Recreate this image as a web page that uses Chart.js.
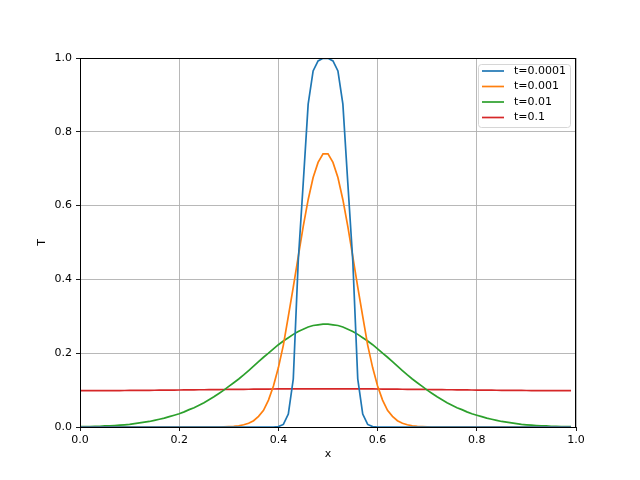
<!DOCTYPE html>
<html>
<head>
<meta charset="utf-8">
<script src="https://cdn.jsdelivr.net/npm/chart.js@4/dist/chart.umd.min.js"></script>
<style>
  html,body{margin:0;padding:0;background:#fff;}
  #wrap{width:640px;height:480px;}
</style>
</head>
<body>
<div id="wrap"><canvas id="c" width="640" height="480"></canvas></div>
<script>
// x grid: 0.00 .. 0.99, step 0.01
const xs = [
  0.00,0.01,0.02,0.03,0.04,0.05,0.06,0.07,0.08,0.09,
  0.10,0.11,0.12,0.13,0.14,0.15,0.16,0.17,0.18,0.19,
  0.20,0.21,0.22,0.23,0.24,0.25,0.26,0.27,0.28,0.29,
  0.30,0.31,0.32,0.33,0.34,0.35,0.36,0.37,0.38,0.39,
  0.40,0.41,0.42,0.43,0.44,0.45,0.46,0.47,0.48,0.49,
  0.50,0.51,0.52,0.53,0.54,0.55,0.56,0.57,0.58,0.59,
  0.60,0.61,0.62,0.63,0.64,0.65,0.66,0.67,0.68,0.69,
  0.70,0.71,0.72,0.73,0.74,0.75,0.76,0.77,0.78,0.79,
  0.80,0.81,0.82,0.83,0.84,0.85,0.86,0.87,0.88,0.89,
  0.90,0.91,0.92,0.93,0.94,0.95,0.96,0.97,0.98,0.99
];

const tA = [ // t=0.0001
  0,0,0,0,0,0,0,0,0,0,
  0,0,0,0,0,0,0,0,0,0,
  0,0,0,0,0,0,0,0,0,0,
  0,0,0,0,0,0,0,0,0,0,
  0.001,0.007,0.035,0.13,0.45,0.66,0.875,0.965,0.992,0.999,
  0.999,0.992,0.965,0.875,0.66,0.45,0.13,0.035,0.007,0.001,
  0,0,0,0,0,0,0,0,0,0,
  0,0,0,0,0,0,0,0,0,0,
  0,0,0,0,0,0,0,0,0,0,
  0,0,0,0,0,0,0,0,0,0
];

const tB = [ // t=0.001
  0,0,0,0,0,0,0,0,0,0,
  0,0,0,0,0,0,0,0,0,0,
  0,0,0,0,0,0,0,0,0,0.0005,
  0.001,0.0015,0.003,0.006,0.010,0.017,0.029,0.045,0.073,0.111,
  0.161,0.222,0.300,0.379,0.462,0.543,0.616,0.676,0.717,0.740,
  0.740,0.717,0.676,0.616,0.543,0.462,0.379,0.300,0.222,0.161,
  0.111,0.073,0.045,0.029,0.017,0.010,0.006,0.003,0.0015,0.001,
  0.0005,0,0,0,0,0,0,0,0,0,
  0,0,0,0,0,0,0,0,0,0,
  0,0,0,0,0,0,0,0,0,0
];

const tC = [ // t=0.01
  0.001,0.001,0.001,0.002,0.002,0.003,0.003,0.004,0.005,0.006,
  0.007,0.009,0.011,0.013,0.015,0.018,0.021,0.024,0.028,0.032,
  0.036,0.041,0.047,0.052,0.059,0.066,0.074,0.082,0.091,0.100,
  0.110,0.120,0.130,0.141,0.153,0.165,0.177,0.189,0.200,0.212,
  0.223,0.233,0.242,0.251,0.259,0.265,0.271,0.275,0.277,0.279,
  0.279,0.277,0.275,0.271,0.265,0.259,0.251,0.242,0.233,0.223,
  0.212,0.200,0.189,0.177,0.165,0.153,0.141,0.130,0.120,0.110,
  0.100,0.091,0.082,0.074,0.066,0.059,0.052,0.047,0.041,0.036,
  0.032,0.028,0.024,0.021,0.018,0.015,0.013,0.011,0.009,0.007,
  0.006,0.005,0.004,0.003,0.003,0.002,0.002,0.001,0.001,0.001
];

const tD = [ // t=0.1
  0.0985,0.0985,0.0985,0.0986,0.0986,0.0986,0.0987,0.0988,0.0988,0.0989,
  0.0990,0.0991,0.0992,0.0993,0.0995,0.0996,0.0997,0.0999,0.1000,0.1002,
  0.1003,0.1004,0.1006,0.1007,0.1009,0.1010,0.1012,0.1013,0.1015,0.1016,
  0.1018,0.1019,0.1021,0.1022,0.1023,0.1025,0.1026,0.1027,0.1028,0.1030,
  0.1031,0.1031,0.1032,0.1033,0.1034,0.1034,0.1034,0.1035,0.1035,0.1035,
  0.1035,0.1035,0.1035,0.1034,0.1034,0.1034,0.1033,0.1032,0.1031,0.1031,
  0.1030,0.1028,0.1027,0.1026,0.1025,0.1023,0.1022,0.1021,0.1019,0.1018,
  0.1016,0.1015,0.1013,0.1012,0.1010,0.1009,0.1007,0.1006,0.1004,0.1003,
  0.1002,0.1000,0.0999,0.0997,0.0996,0.0995,0.0993,0.0992,0.0991,0.0990,
  0.0989,0.0988,0.0988,0.0987,0.0986,0.0986,0.0986,0.0985,0.0985,0.0985
];

const seriesLabels = ['t=0.0001','t=0.001','t=0.01','t=0.1'];
const seriesColors = ['#1f77b4','#ff7f0e','#2ca02c','#d62728'];
const xTicks = [0.0,0.2,0.4,0.6,0.8,1.0];
const yTicks = [0.0,0.2,0.4,0.6,0.8,1.0];

const FONT = 'DejaVu Sans';
const pts = ys => xs.map((x,i)=>({x, y:ys[i]}));

// frame (all four spines) + matplotlib-style legend
const framePlugin = {
  id:'frame',
  afterDraw(chart){
    const {ctx, chartArea:a} = chart;
    ctx.save();
    ctx.strokeStyle='#000'; ctx.lineWidth=1;
    ctx.strokeRect(Math.round(a.left)+0.5, Math.round(a.top)+0.5, Math.round(a.right-a.left)-1, Math.round(a.bottom-a.top));

    // legend box
    const bx=478.5, by=64.5, bw=92, bh=63;
    ctx.fillStyle='rgba(255,255,255,0.8)';
    ctx.strokeStyle='#d6d6d6';
    ctx.beginPath();
    if(ctx.roundRect) ctx.roundRect(bx,by,bw,bh,3); else ctx.rect(bx,by,bw,bh);
    ctx.fill(); ctx.stroke();
    ctx.font='11px "'+FONT+'"';
    ctx.textBaseline='middle';
    ctx.textAlign='left';
    seriesLabels.forEach((lab,i)=>{
      const y=71+i*15.5;
      ctx.strokeStyle=seriesColors[i]; ctx.lineWidth=1.7;
      ctx.beginPath(); ctx.moveTo(482,y); ctx.lineTo(504,y); ctx.stroke();
      ctx.fillStyle='#000';
      ctx.fillText(lab,514,y);
    });
    ctx.restore();
  }
};

const ds = [tA,tB,tC,tD].map((ys,i)=>({
  label: seriesLabels[i],
  data: pts(ys),
  borderColor: seriesColors[i],
  backgroundColor: seriesColors[i],
  borderWidth: 1.7,
  pointRadius: 0,
  tension: 0,
  fill: false
}));

const tickFmt = v => Number(v).toFixed(1);

new Chart(document.getElementById('c'), {
  type:'line',
  data:{datasets: ds},
  options:{
    responsive:false,
    animation:false,
    layout:{padding:{left:0,top:58,right:64,bottom:0}},
    plugins:{legend:{display:false}, tooltip:{enabled:false}},
    scales:{
      x:{
        type:'linear', min:0, max:1,
        afterBuildTicks: s => { s.ticks = xTicks.map(v=>({value:v})); },
        afterFit: s => { s.height = 53; },
        grid:{color:'#b0b0b0', lineWidth:0.9, tickLength:4, tickColor:'#000', drawTicks:true},
        border:{display:true, color:'#000', width:1},
        ticks:{color:'#000', font:{family:FONT, size:11}, padding:3, maxRotation:0, callback: tickFmt},
        title:{display:true, text:'x', color:'#000', font:{family:FONT, size:11}, padding:{top:0,bottom:19}}
      },
      y:{
        type:'linear', min:0, max:1,
        afterBuildTicks: s => { s.ticks = yTicks.map(v=>({value:v})); },
        afterFit: s => { s.width = 80; },
        grid:{color:'#b0b0b0', lineWidth:0.9, tickLength:4, tickColor:'#000', drawTicks:true},
        border:{display:true, color:'#000', width:1},
        ticks:{color:'#000', font:{family:FONT, size:11}, padding:4, callback: tickFmt},
        title:{display:true, text:'T', color:'#000', font:{family:FONT, size:11}, padding:{top:36,bottom:0}}
      }
    }
  },
  plugins:[framePlugin]
});
</script>
</body>
</html>
